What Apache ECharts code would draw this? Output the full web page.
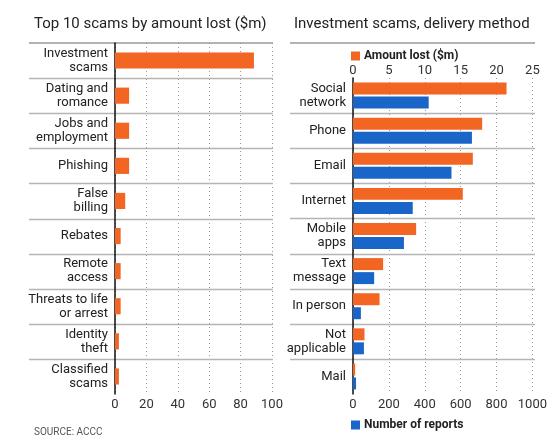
<!DOCTYPE html>
<html>
<head>
<meta charset="utf-8">
<script src="https://cdn.jsdelivr.net/npm/echarts@6/dist/echarts.min.js"></script>
<style>
  html, body { margin: 0; padding: 0; background: #fff; }
  #main { width: 550px; height: 442px; }
</style>
</head>
<body>
<div id="main"></div>
<script>
// left panel - top 10 scams by amount lost ($m)
var scamTypes = ['Investment\nscams', 'Dating and\nromance', 'Jobs and\nemployment', 'Phishing', 'False\nbilling',
  'Rebates', 'Remote\naccess', 'Threats to life\nor arrest', 'Identity\ntheft', 'Classified\nscams'];
var scamLoss = [88.5, 9, 9, 9, 6.5, 3.6, 3.6, 3.6, 2.5, 2.5];
var lossTicks = [0, 20, 40, 60, 80, 100];

// right panel - investment scams by delivery method
var methods = ['Social\nnetwork', 'Phone', 'Email', 'Internet', 'Mobile\napps', 'Text\nmessage', 'In person', 'Not\napplicable', 'Mail'];
var methodLoss = [21.4, 18, 16.7, 15.3, 8.8, 4.2, 3.7, 1.6, 0.3];
var methodReports = [422, 663, 549, 333, 284, 118, 44, 61, 17];
var methodLossTicks = [0, 5, 10, 15, 20, 25];
var reportTicks = [0, 200, 400, 600, 800, 1000];

var ORANGE = '#f26522';
var BLUE = '#1a66c8';
var FONT = 'Roboto';

var chart = echarts.init(document.getElementById('main'), null, { renderer: 'canvas' });

var dotted = { show: true, lineStyle: { color: '#9a9a9a', width: 1, type: [1, 3] } };
var tickLabel = { color: '#333', fontFamily: FONT, fontSize: 13, formatter: function (v) { return String(v); } };
var catLabel = { color: '#222', fontFamily: FONT, fontSize: 13, lineHeight: 14, margin: 7, align: 'right' };

var option = {
  animation: false,
  backgroundColor: '#fff',
  title: [
    { text: 'Top 10 scams by amount lost ($m)', left: 29, top: 12,
      textStyle: { fontFamily: FONT, fontSize: 15, fontWeight: 'normal', color: '#222' } },
    { text: 'Investment scams, delivery method', left: 289, top: 12,
      textStyle: { fontFamily: FONT, fontSize: 15, fontWeight: 'normal', color: '#222' } },
    { text: 'SOURCE: ACCC', left: 29, top: 422,
      textStyle: { fontFamily: FONT, fontSize: 10, fontWeight: 'normal', color: '#555' } }
  ],
  legend: [
    { data: ['Amount lost ($m)'], left: 346, top: 45, icon: 'rect', itemWidth: 9, itemHeight: 9, itemGap: 4,
      textStyle: { fontFamily: FONT, fontSize: 12, fontWeight: 'bold', color: '#222', padding: [0, 0, 0, -1] } },
    { data: ['Number of reports'], left: 346, top: 414, icon: 'rect', itemWidth: 9, itemHeight: 9, itemGap: 4,
      textStyle: { fontFamily: FONT, fontSize: 12, fontWeight: 'bold', color: '#222', padding: [0, 0, 0, -1] } }
  ],
  grid: [
    { left: 115, top: 43, width: 157, height: 351 },
    { left: 353, top: 78, width: 181, height: 316 }
  ],
  xAxis: [
    { gridIndex: 0, type: 'value', position: 'bottom',
      min: lossTicks[0], max: lossTicks[lossTicks.length - 1], interval: lossTicks[1] - lossTicks[0],
      axisLine: { show: false }, axisTick: { show: false },
      axisLabel: Object.assign({ margin: 4 }, tickLabel), splitLine: dotted },
    { gridIndex: 1, type: 'value', position: 'top',
      min: methodLossTicks[0], max: methodLossTicks[methodLossTicks.length - 1], interval: methodLossTicks[1] - methodLossTicks[0],
      axisLine: { show: false }, axisTick: { show: false },
      axisLabel: Object.assign({ margin: 1 }, tickLabel), splitLine: dotted },
    { gridIndex: 1, type: 'value', position: 'bottom',
      min: reportTicks[0], max: reportTicks[reportTicks.length - 1], interval: reportTicks[1] - reportTicks[0],
      axisLine: { show: false }, axisTick: { show: false },
      axisLabel: Object.assign({ margin: 4 }, tickLabel), splitLine: { show: false } }
  ],
  yAxis: [
    { gridIndex: 0, type: 'category', data: scamTypes, inverse: true,
      axisLine: { show: true, lineStyle: { color: '#111', width: 1.5 } }, axisTick: { show: false },
      axisLabel: catLabel },
    { gridIndex: 1, type: 'category', data: methods, inverse: true,
      axisLine: { show: true, lineStyle: { color: '#111', width: 1.5 } }, axisTick: { show: false },
      axisLabel: catLabel }
  ],
  series: [
    { name: 'Top 10', type: 'bar', xAxisIndex: 0, yAxisIndex: 0, data: scamLoss,
      barWidth: '46%', itemStyle: { color: ORANGE } },
    { name: 'Amount lost ($m)', type: 'bar', xAxisIndex: 1, yAxisIndex: 1, data: methodLoss,
      barCategoryGap: '26%', barGap: '17%', itemStyle: { color: ORANGE } },
    { name: 'Number of reports', type: 'bar', xAxisIndex: 2, yAxisIndex: 1, data: methodReports,
      barCategoryGap: '26%', barGap: '17%', itemStyle: { color: BLUE } }
  ]
};
chart.setOption(option);

// row separators between categories, placed from the category axis
function separators(yIdx, cats, x1, x2) {
  var out = [];
  for (var i = 0; i < cats.length - 1; i++) {
    var a = chart.convertToPixel({ yAxisIndex: yIdx }, i);
    var b = chart.convertToPixel({ yAxisIndex: yIdx }, i + 1);
    var y = Math.round((a + b) / 2) + 0.5;
    out.push({ type: 'line', shape: { x1: x1, y1: y, x2: x2, y2: y },
      style: { stroke: '#b5b5b5', lineWidth: 1.5 }, silent: true, z: 0 });
  }
  return out;
}
var g = [];
g = g.concat(separators(0, scamTypes, 29, 273));
g = g.concat(separators(1, methods, 290, 535));
// header rules under the titles
g.push({ type: 'line', shape: { x1: 29, y1: 43, x2: 273, y2: 43 }, style: { stroke: '#9a9a9a', lineWidth: 1.5 }, z: 0 });
g.push({ type: 'line', shape: { x1: 290, y1: 43, x2: 535, y2: 43 }, style: { stroke: '#9a9a9a', lineWidth: 1.5 }, z: 0 });
chart.setOption({ graphic: g });
</script>
</body>
</html>
